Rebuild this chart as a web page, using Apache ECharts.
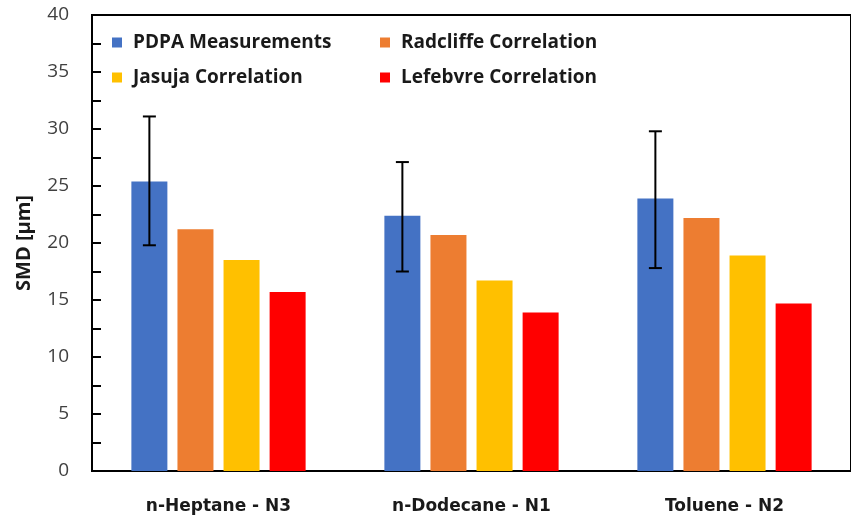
<!DOCTYPE html>
<html>
<head>
<meta charset="utf-8">
<script src="https://cdn.jsdelivr.net/npm/echarts@6/dist/echarts.min.js"></script>
<style>
  html, body { margin: 0; padding: 0; background: #fff; }
  #chart { width: 851px; height: 518px; }
</style>
</head>
<body>
<div id="chart"></div>
<script>
// Fuel / nozzle cases on the category axis
const categories = ['n-Heptane - N3', 'n-Dodecane - N1', 'Toluene - N2'];

// Sauter mean diameter, µm
const pdpa = [25.4, 22.4, 23.9];
const radcliffe = [21.2, 20.7, 22.2];
const jasuja = [18.5, 16.7, 18.9];
const lefebvre = [15.7, 13.9, 14.7];

// Measurement spread (error bar ends), µm
const pdpaHigh = [31.1, 27.1, 29.8];
const pdpaLow = [19.8, 17.5, 17.8];

const seriesNames = ['PDPA Measurements', 'Radcliffe Correlation', 'Jasuja Correlation', 'Lefebvre Correlation'];
const seriesColors = ['#4472C4', '#ED7D31', '#FFC000', '#FF0000'];
const yTicks = { min: 0, max: 40, step: 5 };

const FONT = '"Open Sans"';
const FONT_X = '"DejaVu Sans"';
const BAR_W = 36;
const BAR_GAP = 0.28;

const chart = echarts.init(document.getElementById('chart'), null, { renderer: 'canvas' });

const barSeries = [pdpa, radcliffe, jasuja, lefebvre].map((vals, i) => ({
  name: seriesNames[i],
  type: 'bar',
  data: vals,
  barWidth: BAR_W,
  barGap: (BAR_GAP * 100) + '%',
  itemStyle: { color: seriesColors[i] },
  emphasis: { disabled: true },
  z: 2
}));

// Error bars drawn over the PDPA bars (first bar of each group)
const errorSeries = {
  type: 'custom',
  name: 'err',
  z: 5,
  data: categories.map((c, i) => [i, pdpaLow[i], pdpaHigh[i]]),
  renderItem: function (params, api) {
    const idx = api.value(0);
    const lo = api.coord([idx, api.value(1)]);
    const hi = api.coord([idx, api.value(2)]);
    const groupW = 4 * BAR_W + 3 * BAR_W * BAR_GAP;
    const x = lo[0] - groupW / 2 + BAR_W / 2;
    const cap = 6.5;
    const style = { stroke: '#000', lineWidth: 2 };
    return {
      type: 'group',
      children: [
        { type: 'line', shape: { x1: x, y1: hi[1], x2: x, y2: lo[1] }, style },
        { type: 'line', shape: { x1: x - cap, y1: hi[1], x2: x + cap, y2: hi[1] }, style },
        { type: 'line', shape: { x1: x - cap, y1: lo[1], x2: x + cap, y2: lo[1] }, style }
      ]
    };
  }
};

const legendPos = [
  { left: 112, top: 33 },
  { left: 380, top: 33 },
  { left: 112, top: 68 },
  { left: 380, top: 68 }
];

chart.setOption({
  animation: false,
  textStyle: { fontFamily: FONT },
  grid: { left: 92, top: 15, width: 768, bottom: 47, containLabel: false,
          show: true, borderColor: '#000', borderWidth: 2 },
  legend: seriesNames.map((n, i) => ({
    data: [n],
    left: legendPos[i].left,
    top: legendPos[i].top,
    padding: 0,
    itemWidth: 10,
    itemHeight: 10,
    itemGap: 0,
    icon: 'rect',
    selectedMode: false,
    textStyle: { fontFamily: FONT, fontWeight: 'bold', fontSize: 19, color: '#1a1a1a', padding: [0, 0, 0, 6] }
  })),
  xAxis: {
    type: 'category',
    data: categories,
    axisLine: { lineStyle: { color: '#000', width: 2 } },
    axisTick: { show: false },
    axisLabel: { fontFamily: FONT_X, fontWeight: 'bold', fontSize: 17, color: '#1a1a1a', margin: 27 }
  },
  yAxis: {
    type: 'value',
    min: yTicks.min,
    max: yTicks.max,
    interval: yTicks.step,
    name: 'SMD [µm]',
    nameLocation: 'middle',
    nameGap: 58,
    nameTextStyle: { fontFamily: FONT, fontWeight: 'bold', fontSize: 20, color: '#1a1a1a' },
    axisLine: { show: true, lineStyle: { color: '#000', width: 2 } },
    axisTick: { show: true, inside: true, length: 9, lineStyle: { color: '#000', width: 2 } },
    minorTick: { show: true, splitNumber: 2, length: 9, lineStyle: { color: '#000', width: 2 } },
    splitLine: { show: false },
    axisLabel: { fontFamily: FONT, fontSize: 19, color: '#404040', margin: 23 }
  },
  series: barSeries.concat([errorSeries])
});
</script>
</body>
</html>
